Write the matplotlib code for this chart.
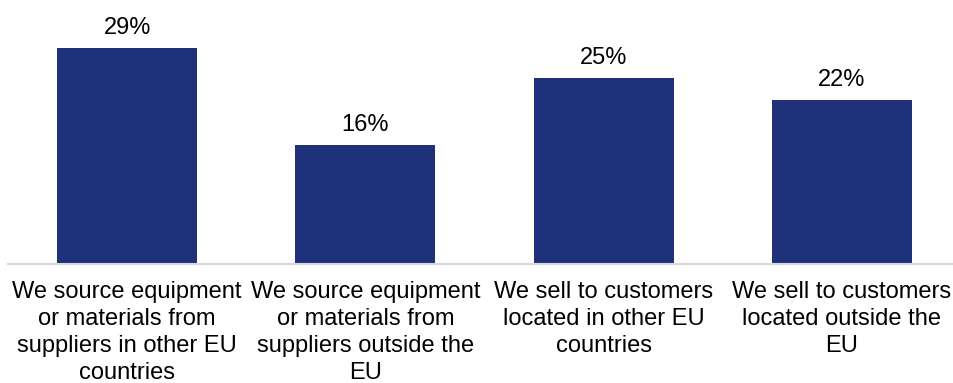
import matplotlib
matplotlib.use("Agg")
import matplotlib.pyplot as plt
from matplotlib import font_manager as fm

categories = [
    "We source equipment\nor materials from\nsuppliers in other EU\ncountries",
    "We source equipment\nor materials from\nsuppliers outside the\nEU",
    "We sell to customers\nlocated in other EU\ncountries",
    "We sell to customers\nlocated outside the\nEU",
]
values = [29, 16, 25, 22]

bar_color = "#1f317a"

# regular-width Liberation Sans, not the Narrow variant
paths = [p for p in fm.findSystemFonts() if p.endswith("LiberationSans-Regular.ttf")]
if paths:
    fm.fontManager.addfont(paths[0])
    fp = fm.FontProperties(fname=paths[0], size=17)
else:
    fp = fm.FontProperties(family="Liberation Sans", size=17)
plt.rcParams["font.family"] = [fp.get_name(), "DejaVu Sans"]

W, H = 954, 383
fig = plt.figure(figsize=(W / 100, H / 100), dpi=100)
ax = fig.add_axes([8 / W, (H - 264) / H, 953 / W, 264 / H])

x = range(len(values))
ax.bar(x, values, width=0.588, color=bar_color)
for i, v in enumerate(values):
    ax.text(i, v + 1.2, f"{v}%", ha="center", va="bottom", fontproperties=fp)

ax.set_xlim(-0.5, 3.5)
ax.set_ylim(0, 35.4)
ax.set_yticks([])

# category labels under each bar
for i, c in enumerate(categories):
    ax.annotate(c, xy=(i, 0), xycoords=("data", "axes fraction"),
                xytext=(0, -17), textcoords="offset pixels",
                ha="center", va="top", fontproperties=fp, linespacing=1.3)
ax.set_xticks([])
for s in ["top", "left", "right"]:
    ax.spines[s].set_visible(False)
ax.spines["bottom"].set_color("#d9d9d9")
ax.spines["bottom"].set_linewidth(1.5)

fig.savefig("out.png", dpi=100)
